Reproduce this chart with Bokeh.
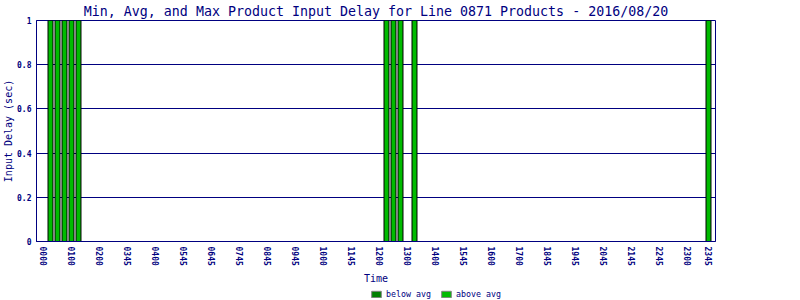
from bokeh.plotting import figure
from bokeh.layouts import column
from bokeh.models import (Range1d, FixedTicker, Legend, LegendItem, ColumnDataSource,
                          NumeralTickFormatter)
from bokeh.embed import file_html
from bokeh.resources import INLINE

# ---- data ----
slot_times = [f"{h:02d}{m:02d}" for h in range(24) for m in (0, 15, 30, 45)]
bar_times = ["0015", "0030", "0045", "0100", "0115", "1215", "1230", "1245", "1315", "2345"]
max_delay = [1, 1, 1, 1, 1, 1, 1, 1, 1, 1]
tick_slots = [0, 4, 8, 12, 16, 20, 24, 28, 32, 36, 40, 44, 48, 52, 56, 60, 64, 68, 72, 76, 80, 84, 88, 92, 95]
tick_labels = ["0000", "0100", "0200", "0345", "0400", "0545", "0645", "0745", "0845", "0945",
               "1000", "1145", "1200", "1300", "1400", "1545", "1600", "1700", "1845", "1945",
               "2045", "2145", "2245", "2300", "2345"]
y_ticks = [0, 0.2, 0.4, 0.6, 0.8, 1]
legend_labels = ["below avg", "above avg"]

NAVY = "#000080"
FONT = "DejaVu Sans Mono"
ABOVE = "#00BB00"
BELOW = "#008000"

src = ColumnDataSource(dict(x=[slot_times.index(t) for t in bar_times], top=max_delay))

p = figure(width=800, height=286, output_backend="svg", toolbar_location=None,
           x_range=Range1d(-1, len(slot_times)), y_range=Range1d(0, 1),
           min_border_left=36, min_border_right=85, min_border_top=20, min_border_bottom=44,
           title="Min, Avg, and Max Product Input Delay for Line 0871 Products - 2016/08/20")
p.title.align = "center"
p.title.text_font = FONT
p.title.text_font_size = "13.3px"
p.title.text_font_style = "normal"
p.title.text_color = NAVY
p.title.standoff = 3

p.outline_line_color = NAVY
p.outline_line_alpha = 1
p.background_fill_color = "white"
p.border_fill_color = "white"

p.xgrid.grid_line_color = None
p.ygrid.grid_line_color = NAVY
p.ygrid.grid_line_alpha = 1
p.ygrid.ticker = FixedTicker(ticks=y_ticks)

p.vbar(x="x", top="top", width=0.714, bottom=0, source=src,
       fill_color=ABOVE, line_color="black", line_width=1)

# axes
xa = p.xaxis[0]
xa.ticker = FixedTicker(ticks=tick_slots)
xa.major_label_overrides = {s: l for s, l in zip(tick_slots, tick_labels)}
xa.major_label_orientation = "vertical"
xa.major_label_text_font = FONT
xa.major_label_text_font_size = "8px"
xa.major_label_text_font_style = "bold"
xa.major_label_text_color = NAVY
xa.major_label_standoff = 5
xa.axis_label = "Time"
xa.axis_label_text_font = FONT
xa.axis_label_text_font_size = "10px"
xa.axis_label_text_font_style = "normal"
xa.axis_label_text_color = NAVY
xa.axis_label_standoff = 4

ya = p.yaxis[0]
ya.ticker = FixedTicker(ticks=y_ticks)
ya.formatter = NumeralTickFormatter(format="0.[0]")
ya.major_label_text_font = FONT
ya.major_label_text_font_size = "8px"
ya.major_label_text_font_style = "bold"
ya.major_label_text_color = NAVY
ya.major_label_standoff = 5
ya.axis_label = "Input Delay (sec)"
ya.axis_label_text_font = FONT
ya.axis_label_text_font_size = "10px"
ya.axis_label_text_font_style = "normal"
ya.axis_label_text_color = NAVY
ya.axis_label_standoff = 0

for ax in (xa, ya):
    ax.major_tick_out = 0
    ax.major_tick_in = 0
    ax.minor_tick_out = 0
    ax.minor_tick_in = 0
    ax.major_tick_line_color = None
    ax.minor_tick_line_color = None
    ax.axis_line_color = NAVY

# ---- legend strip ----
lg = figure(width=800, height=14, output_backend="svg", toolbar_location=None,
            x_range=Range1d(0, 1), y_range=Range1d(0, 1),
            x_axis_location=None, y_axis_location=None,
            min_border=0, outline_line_color=None)
lg.xgrid.visible = False
lg.ygrid.visible = False
hidden = ColumnDataSource(dict(x=[-5], top=[0]))
r_below = lg.vbar(x="x", top="top", width=0.1, source=hidden, fill_color=BELOW, line_color="#808080")
r_above = lg.vbar(x="x", top="top", width=0.1, source=hidden, fill_color=ABOVE, line_color="#808080")
legend = Legend(items=[LegendItem(label=legend_labels[0], renderers=[r_below]),
                       LegendItem(label=legend_labels[1], renderers=[r_above])],
                orientation="horizontal", location=(334, 1),
                label_text_font=FONT, label_text_font_size="8.3px", label_text_color=NAVY,
                glyph_width=12, glyph_height=8, label_standoff=4, spacing=9,
                padding=1, margin=0, border_line_color=None, background_fill_alpha=0,
                label_height=8)
lg.add_layout(legend, "center")

open("out.html", "w").write(file_html(column(p, lg, spacing=0), INLINE))
